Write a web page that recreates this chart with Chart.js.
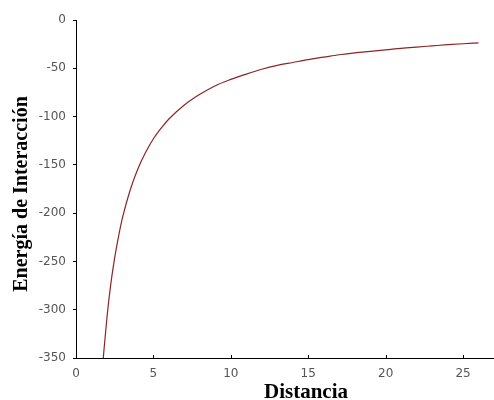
<!DOCTYPE html>
<html>
<head>
<meta charset="utf-8">
<script src="https://cdn.jsdelivr.net/npm/chart.js@4"></script>
<style>
  html, body { margin: 0; padding: 0; background: #fff; }
  #wrap { width: 494px; height: 400px; }
</style>
</head>
<body>
<div id="wrap"><canvas id="line-chart" width="494" height="400"></canvas></div>
<script>
// values
var distancia = [1.76, 2, 2.25, 2.5, 2.75, 3, 3.5, 4, 4.5, 5, 5.5, 6, 7, 8, 9, 10, 11, 12, 13, 14, 15, 16, 17, 18, 19, 20, 21, 22, 23, 24, 25, 26];
var energia = [-350, -308, -273, -246, -224, -205, -176, -154, -137, -123, -112, -102.5, -88, -77, -68, -61.5, -56, -51, -47, -44, -41, -38.5, -36, -34, -32.5, -31, -29.3, -28, -26.8, -25.6, -24.6, -23.7];
var xTitle = "Distancia";
var yTitle = "Energía de Interacción";

var points = distancia.map(function (d, i) { return { x: d, y: energia[i] }; });

var extras = {
  id: 'extras',
  afterDraw: function (chart) {
    var ctx = chart.ctx;
    var xs = chart.scales.x;
    var area = chart.chartArea;
    ctx.save();
    // x ticks pointing into the plot
    ctx.strokeStyle = '#000';
    ctx.lineWidth = 1;
    xs.ticks.forEach(function (t) {
      var px = Math.round(xs.getPixelForValue(t.value)) + 0.5;
      ctx.beginPath();
      ctx.moveTo(px, area.bottom);
      ctx.lineTo(px, area.bottom - 3);
      ctx.stroke();
    });
    // axis titles
    ctx.fillStyle = '#000';
    ctx.font = 'bold 21px "Liberation Serif", "Times New Roman", serif';
    ctx.textAlign = 'center';
    ctx.textBaseline = 'alphabetic';
    ctx.fillText(xTitle, 306, 398);
    ctx.font = 'bold 20px "Liberation Serif", "Times New Roman", serif';
    ctx.translate(27, 194);
    ctx.rotate(-Math.PI / 2);
    ctx.fillText(yTitle, 0, 0);
    ctx.restore();
  }
};

new Chart(document.getElementById("line-chart"), {
  type: 'scatter',
  data: {
    datasets: [{
      data: points,
      showLine: true,
      borderColor: "#8e2424",
      borderWidth: 1.2,
      pointRadius: 0,
      cubicInterpolationMode: 'monotone',
      fill: false
    }]
  },
  options: {
    responsive: false,
    animation: false,
    events: [],
    layout: { padding: { top: 20, right: 0, left: 0, bottom: 0 } },
    plugins: {
      legend: { display: false },
      tooltip: { enabled: false }
    },
    scales: {
      x: {
        type: 'linear',
        min: 0,
        max: 27,
        grid: { drawOnChartArea: false, drawTicks: false },
        border: { color: '#000', width: 1 },
        ticks: {
          stepSize: 5,
          includeBounds: false,
          padding: 9,
          color: '#555',
          font: { family: '"DejaVu Sans", sans-serif', size: 12 }
        },
        afterFit: function (s) { s.height = 42; }
      },
      y: {
        min: -350,
        max: 0,
        grid: { drawOnChartArea: false, drawTicks: true, tickLength: 3, color: '#000' },
        border: { color: '#000', width: 1 },
        ticks: {
          stepSize: 50,
          padding: 7,
          color: '#555',
          font: { family: '"DejaVu Sans", sans-serif', size: 12 }
        },
        afterFit: function (s) { s.width = 76; }
      }
    }
  },
  plugins: [extras]
});
</script>
</body>
</html>
